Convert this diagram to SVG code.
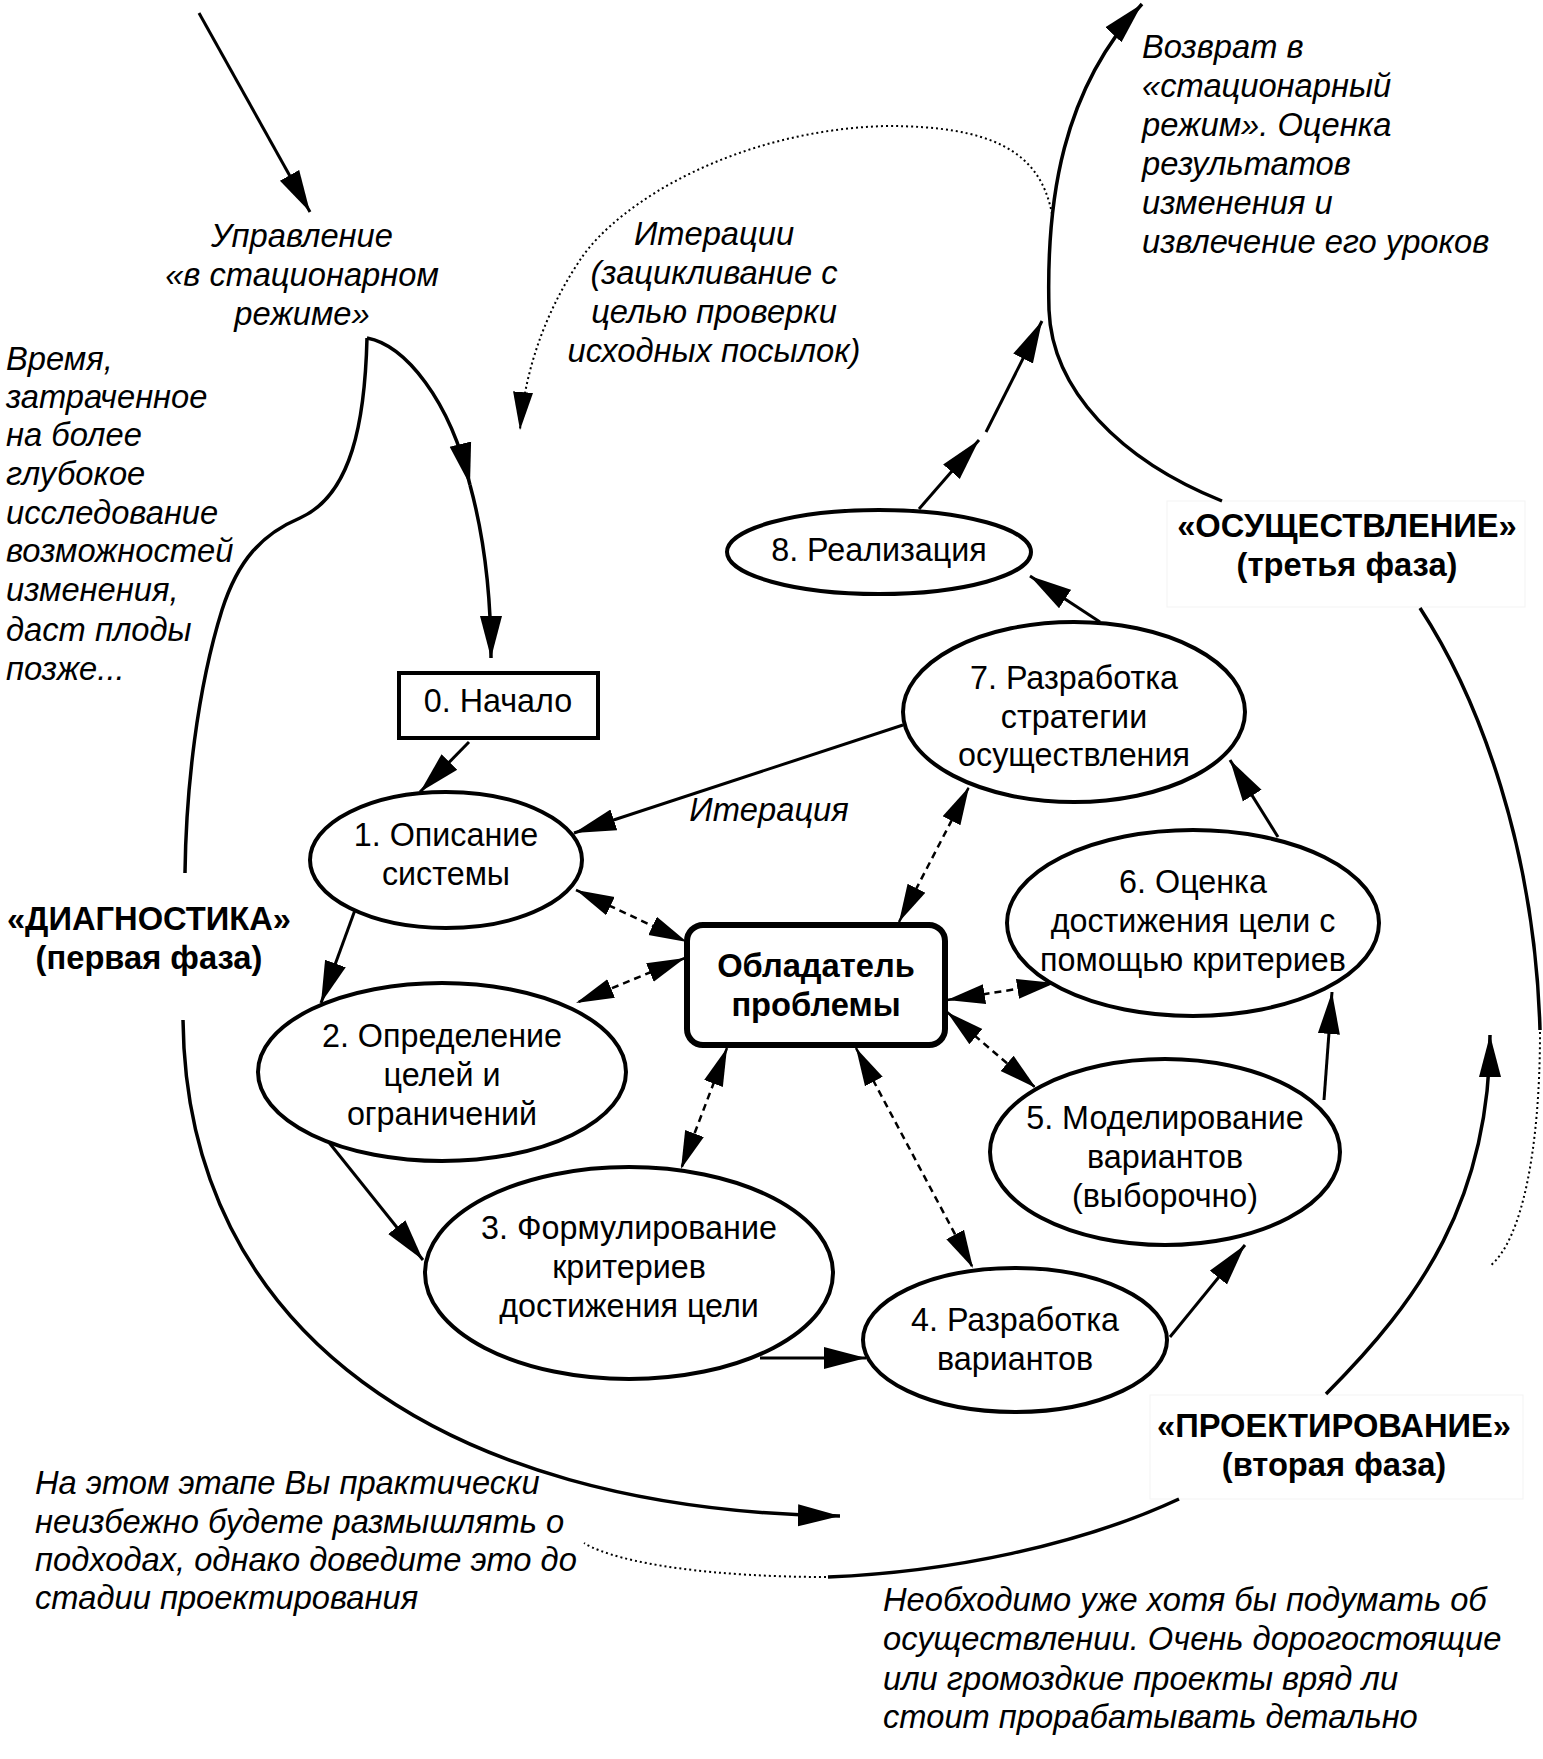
<svg xmlns="http://www.w3.org/2000/svg" width="1543" height="1759" viewBox="0 0 1543 1759">
<defs>
<marker id="ah" markerUnits="userSpaceOnUse" markerWidth="44" markerHeight="24" refX="42" refY="11" orient="auto-start-reverse" viewBox="0 0 44 22">
<path d="M0,0 L42,11 L0,22 z" fill="#000"/>
</marker>
<marker id="ahd" markerUnits="userSpaceOnUse" markerWidth="40" markerHeight="24" refX="38" refY="10" orient="auto-start-reverse" viewBox="0 0 40 20">
<path d="M0,0 L38,10 L0,20 z" fill="#000"/>
</marker>
</defs>
<style>
text{font-family:"Liberation Sans",Arial,sans-serif;font-size:32.3px;fill:#000}
.it{font-style:italic;font-size:32.7px}
.b{font-weight:bold;font-size:32.7px}
.c{text-anchor:middle}
.node{fill:#fff;stroke:#000;stroke-width:4}
.ln{fill:none;stroke:#000;stroke-width:3}
.cv{fill:none;stroke:#000;stroke-width:3.5}
.ds{fill:none;stroke:#000;stroke-width:2.5;stroke-dasharray:7 5}
.dt{fill:none;stroke:#000;stroke-width:2;stroke-dasharray:2 3}
.lb{fill:#fff;stroke:#f3f3f3;stroke-width:1}
</style>
<rect width="1543" height="1759" fill="#fff"/>

<g id="phase-labels">
<rect class="lb" x="1167" y="501" width="358" height="106"/>
<rect class="lb" x="1150" y="1395" width="373" height="104"/>
</g>

<g id="connectors">
<line class="ln" x1="199" y1="13" x2="310" y2="212" marker-end="url(#ah)"/>
<path class="cv" d="M367,338 C365,420 352,495 300,518 C262,534 238,560 222,610 C197,690 186,790 185,873"/>
<path class="cv" d="M367,338 C405,345 450,400 470,485" marker-end="url(#ah)"/>
<path class="cv" d="M470,485 C485,540 491,600 491,658" marker-end="url(#ah)"/>
<path class="cv" d="M183,1020 C186,1330 440,1510 840,1516" marker-end="url(#ah)"/>
<path class="cv" d="M1222,501 C1120,460 1052,390 1049,310 C1046,200 1062,90 1142,4" marker-end="url(#ah)"/>
<path class="dt" d="M1052,214 C1040,150 990,126 886,126 C740,130 620,200 580,260 C540,320 524,380 520,430" marker-end="url(#ahd)"/>
<path class="cv" d="M1420,608 C1480,700 1535,850 1540,1030"/>
<path class="dt" d="M1540,1032 C1540,1150 1522,1240 1490,1266"/>
<path class="cv" d="M1326,1394 C1420,1300 1490,1200 1490,1035" marker-end="url(#ah)"/>
<path class="cv" d="M1179,1499 C1080,1545 950,1572 828,1577"/>
<path class="dt" d="M826,1577 C720,1577 620,1565 584,1543"/>

<line class="ln" x1="469" y1="742" x2="420" y2="792" marker-end="url(#ah)"/>
<line class="ln" x1="355" y1="910" x2="321" y2="1003" marker-end="url(#ah)"/>
<line class="ln" x1="327" y1="1140" x2="423" y2="1260" marker-end="url(#ah)"/>
<line class="ln" x1="760" y1="1358" x2="866" y2="1358" marker-end="url(#ah)"/>
<line class="ln" x1="1170" y1="1337" x2="1245" y2="1245" marker-end="url(#ah)"/>
<line class="ln" x1="1324" y1="1100" x2="1332" y2="992" marker-end="url(#ah)"/>
<line class="ln" x1="1278" y1="837" x2="1230" y2="760" marker-end="url(#ah)"/>
<line class="ln" x1="1100" y1="622" x2="1030" y2="576" marker-end="url(#ah)"/>
<line class="ln" x1="919" y1="509" x2="979" y2="440" marker-end="url(#ah)"/>
<line class="ln" x1="986" y1="432" x2="1042" y2="321" marker-end="url(#ah)"/>
<line class="ln" x1="903" y1="725" x2="574" y2="833" marker-end="url(#ah)"/>

<line class="ds" x1="576" y1="890" x2="687" y2="942" marker-start="url(#ahd)" marker-end="url(#ahd)"/>
<line class="ds" x1="685" y1="958" x2="576" y2="1003" marker-start="url(#ahd)" marker-end="url(#ahd)"/>
<line class="ds" x1="727" y1="1048" x2="681" y2="1169" marker-start="url(#ahd)" marker-end="url(#ahd)"/>
<line class="ds" x1="856" y1="1048" x2="973" y2="1268" marker-start="url(#ahd)" marker-end="url(#ahd)"/>
<line class="ds" x1="947" y1="1012" x2="1036" y2="1088" marker-start="url(#ahd)" marker-end="url(#ahd)"/>
<line class="ds" x1="947" y1="1000" x2="1055" y2="983" marker-start="url(#ahd)" marker-end="url(#ahd)"/>
<line class="ds" x1="899" y1="922" x2="969" y2="787" marker-start="url(#ahd)" marker-end="url(#ahd)"/>
</g>

<g id="n0">
<rect class="node" x="399" y="673" width="199" height="65"/>
<text class="c" x="498" y="712">0. Начало</text>
</g>
<g id="n1">
<ellipse class="node" cx="446" cy="860" rx="136" ry="68"/>
<text class="c" x="446" y="846">1. Описание</text>
<text class="c" x="446" y="885">системы</text>
</g>
<g id="n2">
<ellipse class="node" cx="442" cy="1072" rx="184" ry="89"/>
<text class="c" x="442" y="1047">2. Определение</text>
<text class="c" x="442" y="1086">целей и</text>
<text class="c" x="442" y="1125">ограничений</text>
</g>
<g id="n3">
<ellipse class="node" cx="629" cy="1273" rx="204" ry="106"/>
<text class="c" x="629" y="1239">3. Формулирование</text>
<text class="c" x="629" y="1278">критериев</text>
<text class="c" x="629" y="1317">достижения цели</text>
</g>
<g id="n4">
<ellipse class="node" cx="1015" cy="1340" rx="152" ry="72"/>
<text class="c" x="1015" y="1331">4. Разработка</text>
<text class="c" x="1015" y="1370">вариантов</text>
</g>
<g id="n5">
<ellipse class="node" cx="1165" cy="1152" rx="175" ry="93"/>
<text class="c" x="1165" y="1129">5. Моделирование</text>
<text class="c" x="1165" y="1168">вариантов</text>
<text class="c" x="1165" y="1207">(выборочно)</text>
</g>
<g id="n6">
<ellipse class="node" cx="1193" cy="923" rx="186" ry="93"/>
<text class="c" x="1193" y="893">6. Оценка</text>
<text class="c" x="1193" y="932">достижения цели с</text>
<text class="c" x="1193" y="971">помощью критериев</text>
</g>
<g id="n7">
<ellipse class="node" cx="1074" cy="712" rx="171" ry="90"/>
<text class="c" x="1074" y="689">7. Разработка</text>
<text class="c" x="1074" y="728">стратегии</text>
<text class="c" x="1074" y="766">осуществления</text>
</g>
<g id="n8">
<ellipse class="node" cx="879" cy="552" rx="152" ry="42"/>
<text class="c" x="879" y="561">8. Реализация</text>
</g>
<g id="owner">
<rect x="687" y="925" width="258" height="120" rx="16" fill="#fff" stroke="#000" stroke-width="6"/>
<text class="c b" x="816" y="977">Обладатель</text>
<text class="c b" x="816" y="1016">проблемы</text>
</g>

<g id="labels">
<text class="c it"><tspan x="302" y="247">Управление</tspan><tspan x="302" y="286">«в стационарном</tspan><tspan x="302" y="325">режиме»</tspan></text>
<text class="it"><tspan x="6" y="370">Время,</tspan><tspan x="6" y="408">затраченное</tspan><tspan x="6" y="446">на более</tspan><tspan x="6" y="485">глубокое</tspan><tspan x="6" y="524">исследование</tspan><tspan x="6" y="562">возможностей</tspan><tspan x="6" y="601">изменения,</tspan><tspan x="6" y="641">даст плоды</tspan><tspan x="6" y="680">позже...</tspan></text>
<text class="c it"><tspan x="714" y="245">Итерации</tspan><tspan x="714" y="284">(зацикливание с</tspan><tspan x="714" y="323">целью проверки</tspan><tspan x="714" y="362">исходных посылок)</tspan></text>
<text class="it"><tspan x="1142" y="58">Возврат в</tspan><tspan x="1142" y="97">«стационарный</tspan><tspan x="1142" y="136">режим». Оценка</tspan><tspan x="1142" y="175">результатов</tspan><tspan x="1142" y="214">изменения и</tspan><tspan x="1142" y="253">извлечение его уроков</tspan></text>
<text class="c it" x="769" y="821">Итерация</text>
<text class="c b"><tspan x="149" y="930">«ДИАГНОСТИКА»</tspan><tspan x="149" y="969">(первая фаза)</tspan></text>
<text class="c b"><tspan x="1347" y="537">«ОСУЩЕСТВЛЕНИЕ»</tspan><tspan x="1347" y="576">(третья фаза)</tspan></text>
<text class="c b"><tspan x="1334" y="1437">«ПРОЕКТИРОВАНИЕ»</tspan><tspan x="1334" y="1476">(вторая фаза)</tspan></text>
<text class="it"><tspan x="35" y="1494">На этом этапе Вы практически</tspan><tspan x="35" y="1533">неизбежно будете размышлять о</tspan><tspan x="35" y="1571">подходах, однако доведите это до</tspan><tspan x="35" y="1609">стадии проектирования</tspan></text>
<text class="it"><tspan x="883" y="1611">Необходимо уже хотя бы подумать об</tspan><tspan x="883" y="1650">осуществлении. Очень дорогостоящие</tspan><tspan x="883" y="1690">или громоздкие проекты вряд ли</tspan><tspan x="883" y="1728">стоит прорабатывать детально</tspan></text>
</g>
</svg>
